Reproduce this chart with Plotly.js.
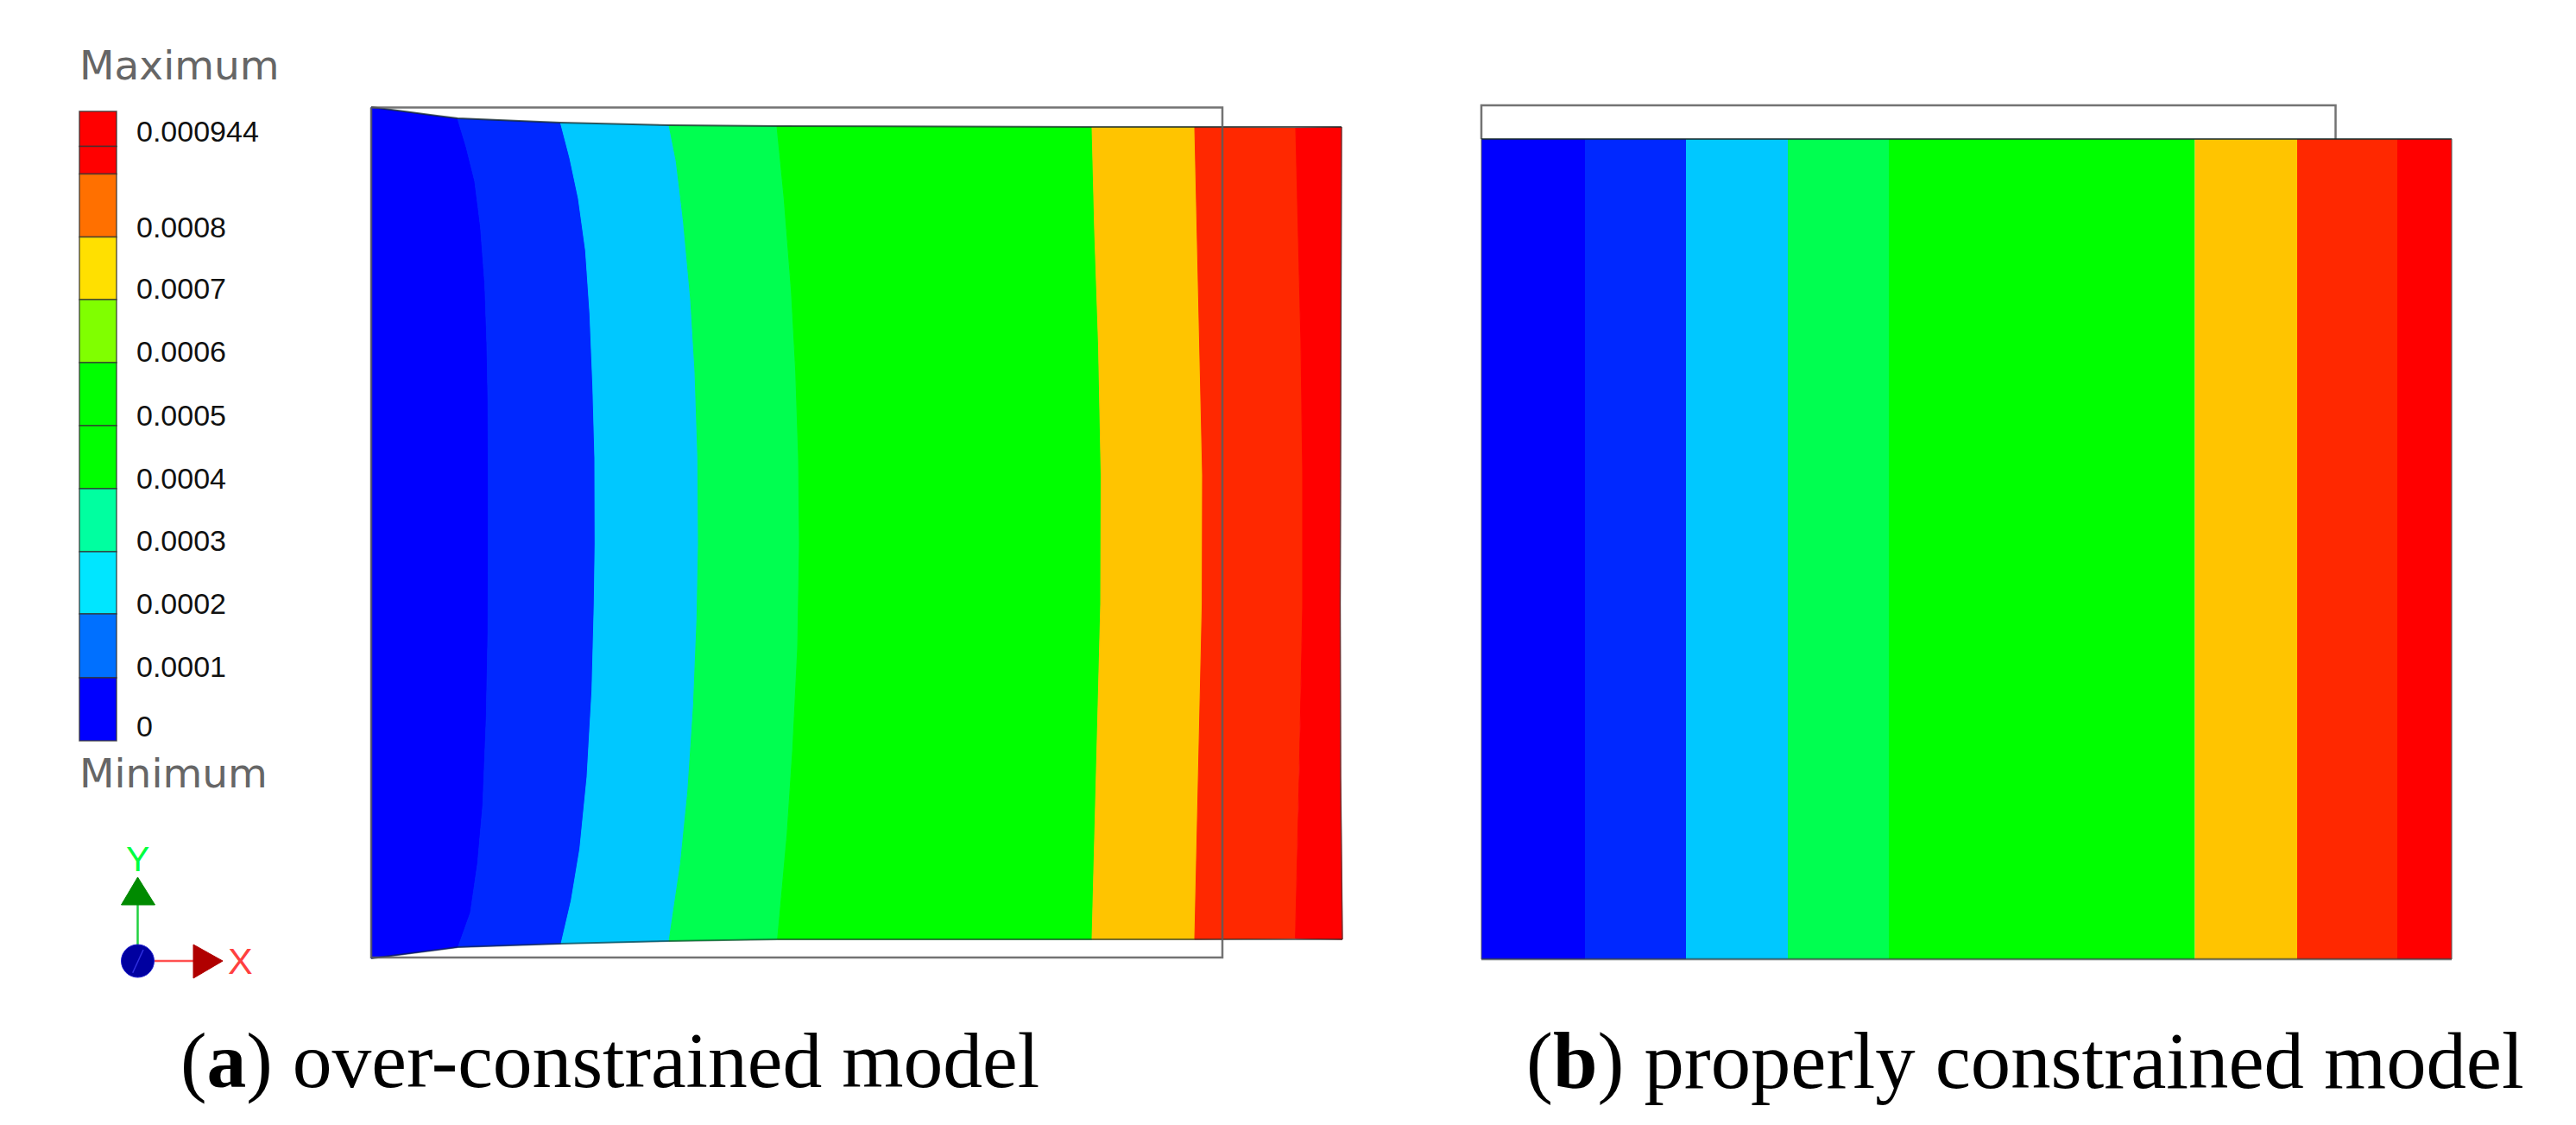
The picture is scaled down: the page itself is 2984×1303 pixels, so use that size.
<!DOCTYPE html>
<html>
<head>
<meta charset="utf-8">
<script src="https://cdn.plot.ly/plotly-3.0.1.min.js"></script>
<style>html,body{margin:0;padding:0;background:#fff}</style>
</head>
<body>
<div id="chart" style="width:2984px;height:1303px"></div>
<script>
const bandColors = ['#0000ff', '#0028ff', '#00c8ff', '#00ff50', '#00ff00', '#ffc400', '#ff2800', '#ff0000']

// left model: band boundaries from the left edge to the right edge
const b0x = [430, 430]
const b0y = [124, 1110]
const b1x = [530, 540, 550, 556.7, 561.7, 564, 565.3, 565.7, 565.3, 563.3, 559.3, 553.3, 545, 530.7]
const b1y = [137, 170, 210, 263, 330, 397, 463, 600, 733, 833, 933, 1000, 1057, 1097]
const b2x = [649.3, 660, 670, 678.3, 683.3, 686.7, 689, 689.3, 688.3, 685.7, 680, 671.7, 661.7, 650]
const b2y = [142, 183, 230, 290, 363, 447, 530, 630, 700, 800, 900, 983, 1043, 1093]
const b3x = [775, 783.3, 791.7, 800, 805, 808.3, 809, 807.3, 803.3, 796.7, 788.3, 775]
const b3y = [145, 187, 257, 347, 430, 530, 630, 717, 817, 917, 1000, 1090]
const b4x = [900, 908.3, 916.7, 921.7, 925, 926, 924, 918.3, 911.7, 900.7]
const b4y = [146, 230, 337, 430, 530, 630, 750, 867, 967, 1088]
const b5x = [1265, 1268, 1272.5, 1275.5, 1275, 1270, 1265]
const b5y = [147, 267, 400, 550, 700, 900, 1088]
const b6x = [1384, 1386.5, 1390, 1393, 1392.6, 1388.5, 1384]
const b6y = [147, 267, 400, 550, 700, 900, 1088]
const b7x = [1501, 1504, 1507, 1509, 1509, 1505, 1500.6]
const b7y = [148, 267, 400, 550, 700, 900, 1087]
const b8x = [1554, 1553, 1552.5, 1553, 1555]
const b8y = [147, 400, 700, 900, 1088]

const topEdgeX = [430, 530, 649.3, 775, 900, 1265, 1554]
const topEdgeY = [124, 137, 142, 145, 146, 147, 147]
const bottomEdgeX = [430, 530.7, 650, 775, 900.7, 1265, 1555]
const bottomEdgeY = [1110, 1097, 1093, 1090, 1088, 1088, 1088]

// undeformed outlines
const leftOutlineX = [430, 1416, 1416, 430, 430]
const leftOutlineY = [124.5, 124.5, 1109, 1109, 124.5]
const rightOutlineX = [1716, 1716, 2705.5, 2705.5]
const rightOutlineY = [161, 122, 122, 161]

// right model: straight bands
const rightEdges = [1716, 1836, 1953, 2071, 2188, 2542.5, 2661, 2777, 2840]
const rightTop = 161
const rightBottom = 1111

// colour scale
const scaleEdges = [129, 169.5, 201.6, 274.5, 347, 420, 493, 566, 639, 711, 785, 858]
const scaleColors = ['#ff0000', '#ff0000', '#ff7000', '#ffe000', '#80ff00', '#00ff00', '#00ff00', '#00ffa0', '#00e6ff', '#0070ff', '#0000ff']
const scaleLabels = ['0.000944', '0.0008', '0.0007', '0.0006', '0.0005', '0.0004', '0.0003', '0.0002', '0.0001', '0']
const scaleLabelY = [152, 262.5, 334, 407, 480.6, 553.5, 626, 699, 772, 840.6]

// axis triad
const yStemX = [159.5, 159.5]
const yStemY = [1048, 1095]
const yHeadX = [159.5, 179.5, 140.5, 159.5]
const yHeadY = [1016, 1048, 1048, 1016]
const xStemX = [178, 224]
const xStemY = [1113, 1113]
const xHeadX = [224, 258, 224, 224]
const xHeadY = [1094, 1113, 1133, 1094]
const originX = [159.5]
const originY = [1113]
const zStrokeX = [153.7, 166]
const zStrokeY = [1126.7, 1100]

const boundaries = [[b0x, b0y], [b1x, b1y], [b2x, b2y], [b3x, b3y], [b4x, b4y], [b5x, b5y], [b6x, b6y], [b7x, b7y], [b8x, b8y]]

function line (x, y, color, width) {
  return { x: x, y: y, type: 'scatter', mode: 'lines', line: { color: color, width: width }, hoverinfo: 'skip' }
}

function filled (x, y, color) {
  return { x: x, y: y, type: 'scatter', mode: 'lines', fill: 'toself', fillcolor: color, line: { color: color, width: 1 }, hoverinfo: 'skip' }
}

function edgeBars (edges) {
  // one column of bars between consecutive edges
  const centers = []
  const widths = []
  for (let i = 0; i < edges.length - 1; i++) {
    centers.push((edges[i] + edges[i + 1]) / 2)
    widths.push(edges[i + 1] - edges[i])
  }
  return { centers: centers, widths: widths }
}

const traces = []

// left model bands
bandColors.forEach((color, i) => {
  const a = boundaries[i]
  const b = boundaries[i + 1]
  const x = a[0].concat(b[0].slice().reverse())
  const y = a[1].concat(b[1].slice().reverse())
  traces.push(filled(x, y, color))
})
traces.push(line(topEdgeX, topEdgeY, 'rgba(20,40,40,0.75)', 2))
traces.push(line(bottomEdgeX, bottomEdgeY, 'rgba(20,40,40,0.6)', 2))
traces.push(line(leftOutlineX, leftOutlineY, 'rgba(90,90,90,0.85)', 2.5))
traces.push(line(b8x, b8y, 'rgba(60,60,60,0.7)', 1.5))

// right model bands
const rb = edgeBars(rightEdges)
traces.push({
  type: 'bar',
  x: rb.centers,
  width: rb.widths,
  base: rb.centers.map(() => rightTop),
  y: rb.centers.map(() => rightBottom - rightTop),
  marker: { color: bandColors, line: { width: 0 } },
  hoverinfo: 'skip'
})
traces.push(line(rightOutlineX, rightOutlineY, 'rgba(90,90,90,0.85)', 2.5))
traces.push(line([rightEdges[0], rightEdges[8]], [rightTop, rightTop], 'rgba(20,40,40,0.75)', 2))
traces.push(line([rightEdges[0], rightEdges[8]], [rightBottom, rightBottom], 'rgba(60,70,70,0.7)', 2.5))
traces.push(line([rightEdges[0], rightEdges[0]], [rightTop, rightBottom], 'rgba(90,90,90,0.6)', 1.5))
traces.push(line([rightEdges[8], rightEdges[8]], [rightTop, rightBottom], 'rgba(90,90,90,0.7)', 1.5))

// colour scale, drawn as one column of horizontal bars
const sb = edgeBars(scaleEdges)
traces.push({
  type: 'bar',
  orientation: 'h',
  y: sb.centers,
  width: sb.widths,
  base: sb.centers.map(() => 92),
  x: sb.centers.map(() => 43),
  marker: { color: scaleColors, line: { color: 'rgba(50,50,50,0.8)', width: 1.5 } },
  hoverinfo: 'skip'
})

// axis triad
traces.push(line(yStemX, yStemY, '#20d040', 2.5))
traces.push(filled(yHeadX, yHeadY, '#008a00'))
traces.push(line(xStemX, xStemY, '#ff5050', 2.5))
traces.push(filled(xHeadX, xHeadY, '#b00000'))
traces.push({
  x: originX,
  y: originY,
  type: 'scatter',
  mode: 'markers',
  marker: { symbol: 'circle', size: 38, color: '#0000a0', line: { color: '#2020d0', width: 1 } },
  hoverinfo: 'skip'
})
traces.push(line(zStrokeX, zStrokeY, '#3030e0', 1.5))

function label (text, x, y, size, color, family, anchor) {
  return {
    text: text,
    x: x,
    y: y,
    xref: 'x',
    yref: 'y',
    xanchor: anchor || 'left',
    yanchor: 'middle',
    showarrow: false,
    borderpad: 0,
    font: { size: size, color: color, family: family }
  }
}

const annotations = [
  label('Maximum', 91, 75, 47, '#666666', 'DejaVu Sans'),
  label('Minimum', 91, 895, 47, '#666666', 'DejaVu Sans'),
  label('Y', 159.5, 995, 41, '#00ff40', 'Liberation Sans', 'center'),
  label('X', 278, 1113, 43, '#ff4040', 'Liberation Sans', 'center'),
  label('(<b>a</b>) over-constrained model', 208, 1228, 91.6, '#000000', 'Liberation Serif'),
  label('(<b>b</b>) properly constrained model', 1767, 1228, 92.7, '#000000', 'Liberation Serif')
]
scaleLabels.forEach((t, i) => {
  annotations.push(label(t, 157, scaleLabelY[i], 34, '#111111', 'Liberation Sans'))
})

const layout = {
  width: 2984,
  height: 1303,
  margin: { l: 0, r: 0, t: 0, b: 0 },
  paper_bgcolor: '#ffffff',
  plot_bgcolor: '#ffffff',
  showlegend: false,
  barmode: 'overlay',
  xaxis: { range: [0, 2984], visible: false, fixedrange: true },
  yaxis: { range: [1303, 0], visible: false, fixedrange: true },
  annotations: annotations
}

Plotly.newPlot('chart', traces, layout, { displayModeBar: false, responsive: false })
</script>
</body>
</html>
